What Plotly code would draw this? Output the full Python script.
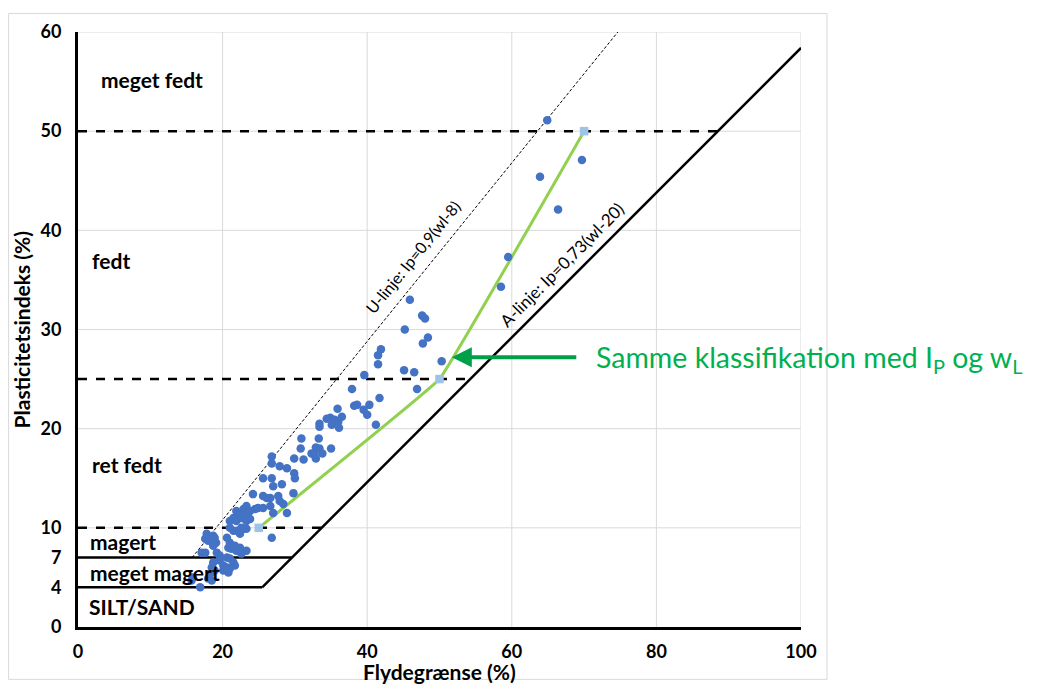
import plotly.graph_objects as go

# ---------------- data ----------------
wl = [64.9, 69.7, 63.9, 66.4, 59.5, 58.5, 50.3,
      45.9, 47.6, 48.0, 45.2, 48.4, 47.7, 41.9, 41.5, 41.5, 45.1, 46.5, 39.6, 46.9, 37.9, 41.7,
      35.9, 38.2, 38.6, 40.3, 39.5, 40.0, 36.5, 34.4, 34.9, 35.5, 36.0, 33.4, 33.4, 35.1, 36.1, 41.2,
      30.9, 33.3, 30.8, 32.9, 33.4, 35.0, 29.9, 31.2, 32.3, 32.7, 33.8, 32.9, 27.9, 28.9, 29.9, 30.0,
      26.8, 26.8, 25.6, 26.8, 27.0, 28.2, 29.8, 24.2, 25.6, 26.6, 26.1, 27.7, 27.9, 28.4,
      23.3, 22.9, 23.8, 24.5, 24.9, 25.6, 26.6, 27.0, 28.9,
      21.9, 22.4, 23.1, 21.0, 21.5, 21.9, 22.6, 23.3, 23.8, 22.9, 23.3, 21.0, 21.5, 22.0, 22.6, 22.4, 26.8,
      17.8, 18.7, 17.6, 18.0, 18.9, 19.1, 18.7, 20.6, 21.0, 20.8, 21.2, 21.7, 21.9, 22.4, 23.3, 22.6,
      17.1, 17.6, 19.2, 19.6, 20.6, 21.0, 21.5, 21.7, 19.6, 20.1, 20.6, 18.7, 18.5, 18.9, 20.1, 20.8,
      21.0, 18.3, 18.0, 18.5, 15.9, 15.7, 16.9]
ip = [51.1, 47.1, 45.4, 42.1, 37.3, 34.3, 26.8,
      33.0, 31.4, 31.1, 30.0, 29.2, 28.6, 28.0, 27.4, 26.5, 25.9, 25.7, 25.4, 24.0, 24.0, 23.1,
      22.0, 22.3, 22.4, 22.4, 21.9, 21.4, 21.2, 21.0, 21.1, 20.9, 20.7, 20.5, 20.2, 20.4, 20.1, 20.4,
      19.0, 19.0, 18.0, 18.1, 18.0, 18.0, 17.0, 16.9, 17.5, 17.4, 17.5, 17.0, 16.2, 16.0, 15.5, 15.0,
      17.2, 16.5, 15.0, 15.0, 14.2, 14.4, 13.5, 13.4, 13.2, 13.0, 13.0, 13.2, 12.7, 12.4,
      12.2, 11.9, 11.7, 11.9, 12.0, 12.0, 12.2, 11.5, 11.5,
      11.7, 11.4, 11.5, 10.7, 11.0, 10.7, 11.0, 10.7, 10.9, 9.9, 9.9, 10.0, 9.7, 9.7, 10.0, 9.4, 9.0,
      9.4, 9.2, 8.9, 8.7, 9.0, 8.5, 8.2, 9.0, 8.5, 8.0, 7.9, 8.2, 7.7, 8.0, 7.7, 7.4,
      7.5, 7.5, 7.5, 7.2, 7.0, 6.9, 6.5, 6.2, 6.7, 6.2, 6.0, 6.5, 6.0, 5.7, 5.7, 5.5,
      5.9, 5.4, 4.9, 4.7, 5.0, 4.7, 4.0]

same_wl = [25, 50, 70]
same_ip = [10, 25, 50]

class_limits = [4, 7, 10, 25, 50]
class_solid = [True, True, False, False, False]
class_names = ["SILT/SAND", "meget magert", "magert", "ret fedt", "fedt", "meget fedt"]
class_label_x = [1.2, 1.4, 1.4, 1.6, 1.7, 2.9]
class_label_y = [2.1, 5.5, 8.6, 16.4, 37.0, 55.2]

x_ticks = [0, 20, 40, 60, 80, 100]
y_ticks = [0, 4, 7, 10, 20, 30, 40, 50, 60]
grid_y = [10, 20, 30, 40, 50, 60]
grid_x = [20, 40, 60, 80, 100]

A_slope, A_off = 0.73, 20
U_slope, U_off = 0.9, 8

FONT = "Lato"
GREEN_TXT = "#00B050"

fig = go.Figure()

# gridlines
for gy in grid_y:
    fig.add_shape(type="line", x0=0, x1=100, y0=gy, y1=gy, xref="x", yref="y",
                  line=dict(color="#D9D9D9", width=1), layer="below")
for gx in grid_x:
    fig.add_shape(type="line", x0=gx, x1=gx, y0=0, y1=60, xref="x", yref="y",
                  line=dict(color="#D9D9D9", width=1), layer="below")

# class boundary lines (stop at A-line)
for lim, solid in zip(class_limits, class_solid):
    x_end = A_off + lim / A_slope
    fig.add_trace(go.Scatter(x=[0, x_end], y=[lim, lim], mode="lines",
                             line=dict(color="black", width=2.5,
                                       dash="solid" if solid else "dash"),
                             hoverinfo="skip", showlegend=False))

# A-line
a_x0 = A_off + class_limits[0] / A_slope
fig.add_trace(go.Scatter(x=[a_x0, 100], y=[class_limits[0], A_slope * (100 - A_off)],
                         mode="lines", line=dict(color="black", width=2.5),
                         hoverinfo="skip", showlegend=False))
# U-line
u_x0 = U_off + class_limits[1] / U_slope
u_x1 = U_off + 60 / U_slope
fig.add_trace(go.Scatter(x=[u_x0, u_x1], y=[class_limits[1], 60], mode="lines",
                         line=dict(color="black", width=1, dash="3px,2px"),
                         hoverinfo="skip", showlegend=False))

# green classification line
fig.add_trace(go.Scatter(x=same_wl, y=same_ip, mode="lines",
                         line=dict(color="#92D050", width=3, shape="spline", smoothing=0.15),
                         hoverinfo="skip", showlegend=False))

# data points
fig.add_trace(go.Scatter(x=wl, y=ip, mode="markers",
                         marker=dict(color="#4472C4", size=8.5),
                         showlegend=False))

# square markers
fig.add_trace(go.Scatter(x=same_wl, y=same_ip, mode="markers",
                         marker=dict(color="#9DC3E6", size=8.5, symbol="square"),
                         showlegend=False))

# class labels
for name, lx, ly in zip(class_names, class_label_x, class_label_y):
    fig.add_annotation(x=lx, y=ly, text=name, showarrow=False, xanchor="left",
                       font=dict(family=FONT, size=21, color="black", weight="bold"))

# line labels
fig.add_annotation(x=46.2, y=37.3, text="U-linje: Ip=0,9(wl-8)", showarrow=False,
                   textangle=-51, font=dict(family=FONT, size=16, color="black"))
fig.add_annotation(x=66.9, y=36.6, text="A-linje: Ip=0,73(wl-20)", showarrow=False,
                   textangle=-45, font=dict(family=FONT, size=17, color="black"))

# green arrow
fig.add_annotation(x=51.7, y=27.2, ax=126, ay=0, axref="pixel", ayref="pixel",
                   text="", showarrow=True, arrowhead=2, arrowsize=1,
                   arrowwidth=4, arrowcolor="#00A04A")
fig.add_annotation(x=71.3, y=27.0, text="Samme klassifikation med I<sub>P</sub> og w<sub>L</sub>",
                   showarrow=False, xanchor="left", yanchor="middle",
                   font=dict(family=FONT, size=28.5, color=GREEN_TXT))

# axis titles
fig.add_annotation(xref="paper", yref="paper", x=-0.0775, y=0.5, text="Plasticitetsindeks (%)",
                   textangle=-90, showarrow=False, xanchor="center", yanchor="middle",
                   font=dict(family=FONT, size=21, color="black", weight="bold"))
fig.add_annotation(xref="paper", yref="paper", x=0.5, y=-0.075, text="Flydegrænse (%)",
                   showarrow=False, xanchor="center", yanchor="middle",
                   font=dict(family=FONT, size=21, color="black", weight="bold"))

# chart border
fig.add_shape(type="rect", xref="paper", yref="paper", x0=-0.096, x1=1.036, y0=-0.088, y1=1.031,
              line=dict(color="#D9D9D9", width=1), layer="below")

fig.update_xaxes(range=[0, 100], tickvals=x_ticks, showgrid=False, zeroline=False,
                 showline=True, linecolor="black", linewidth=3, ticks="",
                 ticklabelstandoff=6,
                 tickfont=dict(family=FONT, size=18, color="black", weight="bold"))
fig.update_yaxes(range=[0, 60], tickvals=y_ticks, showgrid=False, zeroline=False,
                 showline=True, linecolor="black", linewidth=3, ticks="",
                 ticklabelstandoff=10,
                 tickfont=dict(family=FONT, size=18, color="black", weight="bold"))

fig.update_layout(width=1035, height=676, margin=dict(l=70, r=242, t=19, b=57),
                  plot_bgcolor="white", paper_bgcolor="white", showlegend=False)

fig.write_html("out.html")
